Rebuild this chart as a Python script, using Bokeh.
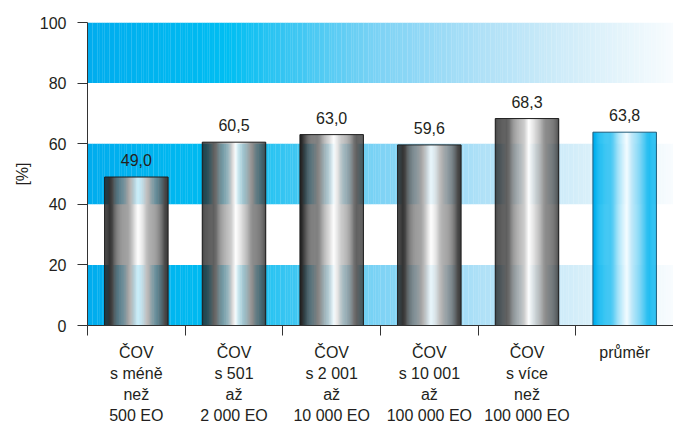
import numpy as np
from bokeh.plotting import figure
from bokeh.models import FixedTicker, Range1d, ColumnDataSource
from bokeh.embed import file_html
from bokeh.resources import INLINE
from bokeh.core.properties import value

# Share (%) per wastewater treatment plant size category
categories = [
    "ČOV\ns méně\nnež\n500 EO",
    "ČOV\ns 501\naž\n2 000 EO",
    "ČOV\ns 2 001\naž\n10 000 EO",
    "ČOV\ns 10 001\naž\n100 000 EO",
    "ČOV\ns více\nnež\n100 000 EO",
    "průměr",
]
values = [49.0, 60.5, 63.0, 59.6, 68.3, 63.8]
is_average = [False, False, False, False, False, True]
y_ticks = [0, 20, 40, 60, 80, 100]
shaded_bands = [(0, 20), (40, 60), (80, 100)]

FONT = "Liberation Sans"
TEXT = "#231f20"
BAR_WIDTH = 0.65

# colour stops (fraction across, rgb)
BAND_STOPS = [(0.0, (0, 172, 238)), (0.17, (0, 184, 240)), (0.24, (0, 190, 242)),
              (0.334, (53, 197, 242)), (0.503, (127, 211, 245)), (0.67, (174, 224, 247)),
              (0.838, (213, 238, 249)), (1.0, (248, 252, 254))]
GRAY_STOPS = [(0.0, (35, 35, 35)), (0.08, (50, 50, 50)), (0.15, (85, 85, 85)),
              (0.25, (120, 120, 120)), (0.35, (155, 155, 155)), (0.45, (200, 200, 200)),
              (0.53, (255, 255, 255)), (0.59, (230, 230, 230)), (0.66, (192, 192, 192)),
              (0.77, (150, 150, 150)), (0.88, (102, 102, 102)), (1.0, (55, 55, 55))]
BLUE_STOPS = [(0.0, (0, 174, 239)), (0.15, (0, 182, 240)), (0.35, (110, 210, 245)),
              (0.53, (245, 252, 255)), (0.6, (200, 235, 250)), (0.78, (70, 198, 242)),
              (1.0, (0, 180, 240))]


def gradient(stops, n):
    pos = np.array([s[0] for s in stops])
    rgb = np.array([s[1] for s in stops], float)
    t = (np.arange(n) + 0.5) / n
    cols = np.stack([np.interp(t, pos, rgb[:, k]) for k in range(3)], axis=1)
    return ["#%02x%02x%02x" % tuple(int(round(c)) for c in row) for row in cols]


n_cat = len(categories)
centers = [i + 0.5 for i in range(n_cat)]

p = figure(frame_width=586, frame_height=303, output_backend="svg", toolbar_location=None,
           x_range=Range1d(0, n_cat), y_range=Range1d(0, 100),
           min_border_left=87, min_border_right=0, min_border_top=22, min_border_bottom=0)
p.outline_line_color = None
p.xgrid.visible = False
p.ygrid.visible = False
p.background_fill_color = "white"
p.border_fill_color = "white"

# horizontal gradient bands behind the bars
n_strips = 240
band_cols = gradient(BAND_STOPS, n_strips)
edges = np.linspace(0, n_cat, n_strips + 1)
bl, br, bb, bt, bc = [], [], [], [], []
for lo, hi in shaded_bands:
    for i in range(n_strips):
        bl.append(edges[i]); br.append(edges[i + 1] + 0.002)
        bb.append(lo); bt.append(hi); bc.append(band_cols[i])
p.quad(left=bl, right=br, bottom=bb, top=bt, fill_color=bc, line_color=None)

# cylinder-shaded bars
n_bar = 60
sl, sr, sb, st, sc = [], [], [], [], []
for c, v, avg in zip(centers, values, is_average):
    cols = gradient(BLUE_STOPS if avg else GRAY_STOPS, n_bar)
    e = np.linspace(c - BAR_WIDTH / 2, c + BAR_WIDTH / 2, n_bar + 1)
    for i in range(n_bar):
        sl.append(e[i]); sr.append(e[i + 1] + 0.001)
        sb.append(0); st.append(v); sc.append(cols[i])
p.quad(left=sl, right=sr, bottom=sb, top=st, fill_color=sc, line_color=None)

outline = ColumnDataSource(dict(
    left=[c - BAR_WIDTH / 2 for c in centers],
    right=[c + BAR_WIDTH / 2 for c in centers],
    top=values,
    color=["#1f5b78" if a else "#1e1e1e" for a in is_average],
))
p.quad(left="left", right="right", bottom=0, top="top", source=outline,
       fill_color=None, line_color="color", line_width=1)

# value labels
labels = ColumnDataSource(dict(x=centers, y=values,
                               text=[f"{v:.1f}".replace(".", ",") for v in values]))
p.text(x="x", y="y", text="text", source=labels, text_align="center",
       text_baseline="bottom", y_offset=-11, text_font=value(FONT),
       text_font_size="16px", text_color=TEXT)

# x axis: boundary ticks as minor ticks, category labels at centres
xa = p.xaxis[0]
xa.ticker = FixedTicker(ticks=centers, minor_ticks=list(range(n_cat)))
xa.major_label_overrides = {c: lab for c, lab in zip(centers, categories)}
xa.major_tick_out = 0
xa.major_tick_in = 0
xa.minor_tick_out = 10
xa.minor_tick_in = 0
xa.minor_tick_line_color = "#333333"
xa.axis_line_color = "#333333"
xa.major_label_standoff = 8
xa.major_label_text_font = FONT
xa.major_label_text_font_size = "16px"
xa.major_label_text_color = TEXT
xa.major_label_text_line_height = 1.25

# y axis
ya = p.yaxis[0]
ya.ticker = FixedTicker(ticks=y_ticks, minor_ticks=[])
ya.major_tick_out = 10
ya.major_tick_in = 0
ya.major_tick_line_color = "#333333"
ya.axis_line_color = "#333333"
ya.major_label_standoff = 11
ya.major_label_text_font = FONT
ya.major_label_text_font_size = "16px"
ya.major_label_text_color = TEXT
ya.axis_label = "[%]"
ya.axis_label_text_font = FONT
ya.axis_label_text_font_size = "16px"
ya.axis_label_text_font_style = "normal"
ya.axis_label_text_color = TEXT
ya.axis_label_standoff = 6

open("out.html", "w").write(file_html(p, INLINE))
